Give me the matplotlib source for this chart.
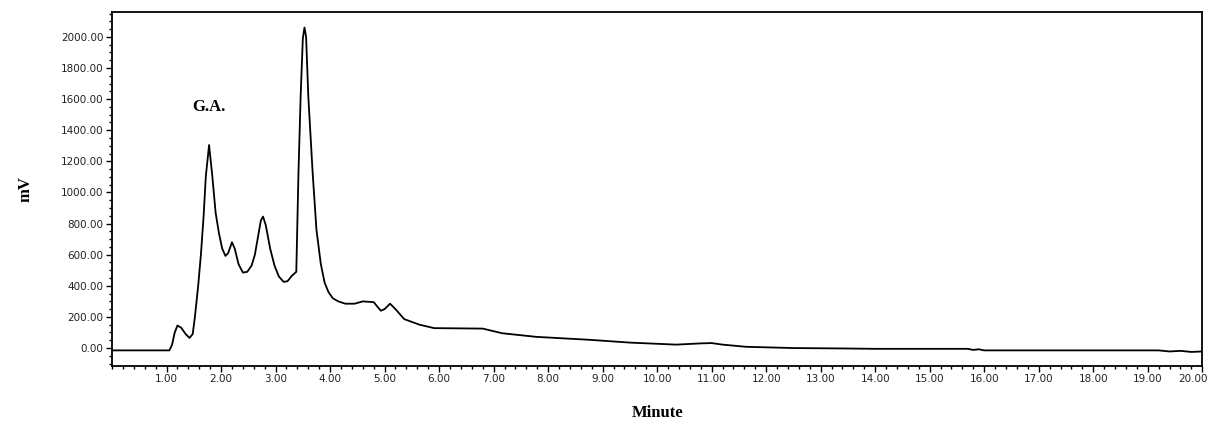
import numpy as np
import matplotlib.pyplot as plt
import matplotlib.transforms as mtransforms
from matplotlib.ticker import MultipleLocator, FormatStrFormatter

# chromatogram (retention time in min, signal in mV)
time_min = [0.0, 1.05, 1.10, 1.15, 1.20, 1.27, 1.35, 1.42, 1.48, 1.52, 1.58, 1.63,
            1.68, 1.72, 1.78, 1.84, 1.90, 1.96, 2.02, 2.08, 2.13, 2.20, 2.25,
            2.32, 2.40, 2.48, 2.56, 2.62, 2.68, 2.73, 2.77, 2.82, 2.90, 2.98, 3.06,
            3.15, 3.22, 3.30, 3.38, 3.42, 3.46, 3.50, 3.53, 3.56, 3.60,
            3.68, 3.75, 3.83, 3.90, 3.97, 4.05, 4.15, 4.28, 4.45, 4.60, 4.80, 4.93,
            5.00, 5.10, 5.20, 5.36, 5.64, 5.91, 6.80, 7.16, 7.78, 8.76, 9.50, 10.35,
            10.80, 11.00, 11.20, 11.63, 12.50, 13.50, 14.00, 15.70, 15.80, 15.90,
            16.00, 19.20, 19.40, 19.60, 19.80, 20.00]
signal_mv = [-15, -15, 20, 100, 145, 130, 90, 65, 90, 200, 400, 600,
             850, 1103, 1305, 1103, 870, 740, 640, 592, 610, 680, 640,
             540, 485, 490, 530, 600, 720, 820, 845, 790, 640, 530, 460,
             425, 430, 465, 490, 1127, 1620, 1990, 2060, 2000, 1620,
             1127, 760, 540, 420, 360, 320, 300, 285, 285, 300, 295, 240,
             250, 285, 250, 186, 150, 128, 125, 95, 72, 53, 35, 22,
             30, 32, 22, 8, 0, -3, -5, -5, -12, -8,
             -15, -15, -22, -18, -25, -22]

peak_label = "G.A."
peak_label_pos = (1.78, 1550)

fig = plt.figure(figsize=(12.14, 4.28), dpi=100)
ax = fig.add_axes([0.0923, 0.145, 0.898, 0.827])

ax.plot(time_min, signal_mv, color='black', linewidth=1.3)
ax.text(peak_label_pos[0], peak_label_pos[1], peak_label, ha='center', va='center',
        fontsize=12, fontweight='bold', family='Liberation Serif')

ax.set_xlim(0, 20)
ax.set_ylim(-115, 2160)
ax.xaxis.set_minor_locator(MultipleLocator(0.2))
ax.yaxis.set_major_locator(MultipleLocator(200))
ax.yaxis.set_minor_locator(MultipleLocator(50))
ax.xaxis.set_major_formatter(FormatStrFormatter('%.2f'))
ax.yaxis.set_major_formatter(FormatStrFormatter('%.2f'))
ax.set_xticks([t for t in range(1, 21)])
ax.tick_params(which='major', direction='out', length=4, width=1, labelsize=7.5,
               labelcolor='#222222', pad=2)
ax.tick_params(which='minor', direction='out', length=2.5, width=1)

for s in ax.spines.values():
    s.set_linewidth(1.3)

ax.set_xlabel('Minute', fontsize=12, fontweight='bold', family='Liberation Serif', labelpad=15)
ax.set_ylabel('mV', fontsize=12, fontweight='bold', family='Liberation Serif', labelpad=20)

# keep the last tick label (20.00) inside the picture
fig.canvas.draw()
last = ax.get_xticklabels()[-1]
last.set_transform(last.get_transform() + mtransforms.ScaledTranslation(-7 / 72, 0, fig.dpi_scale_trans))

fig.savefig('out.png', dpi=100)
